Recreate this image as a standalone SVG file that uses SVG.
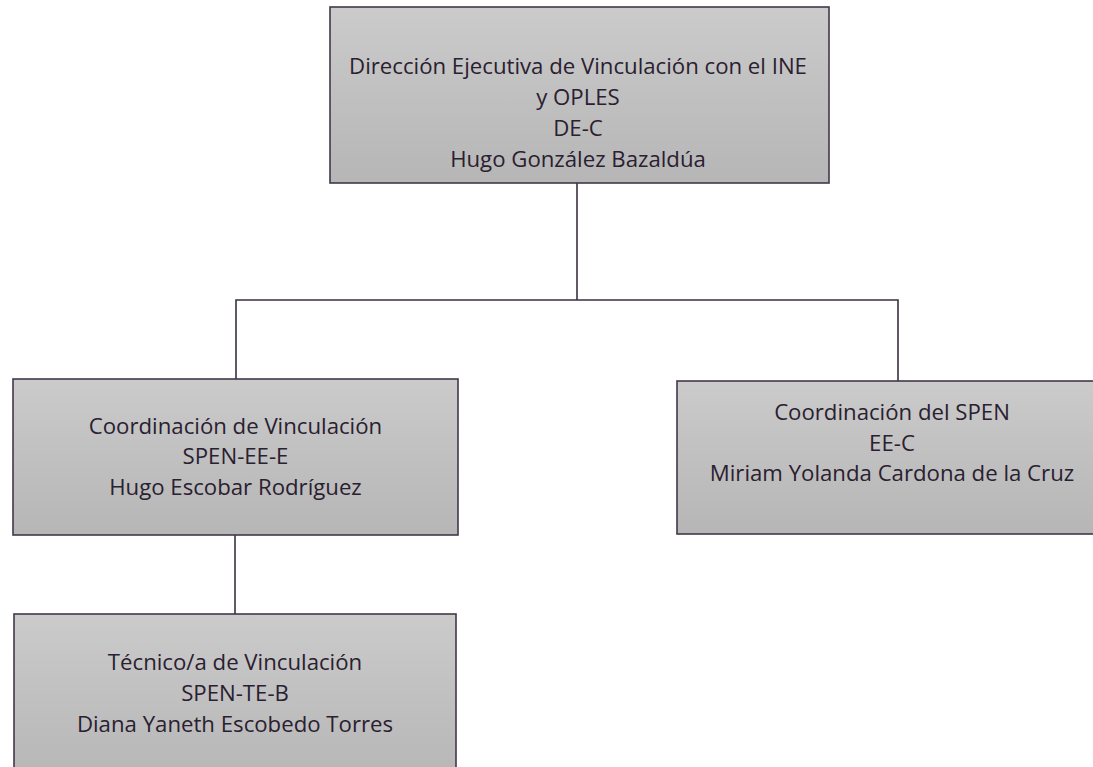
<svg xmlns="http://www.w3.org/2000/svg" width="1093" height="767" viewBox="0 0 1093 767">
<defs>
<linearGradient id="g" x1="0" y1="0" x2="0" y2="1">
<stop offset="0" stop-color="#cbcbcb"/>
<stop offset="0.5" stop-color="#c0c0c0"/>
<stop offset="1" stop-color="#b6b6b6"/>
</linearGradient>
<style>
.box{fill:url(#g);stroke:#43384a;stroke-width:1.6}
.t{font-family:"Open Sans","Liberation Sans",Arial,sans-serif;font-size:22.2px;fill:#2a2030;text-anchor:middle}
.c{fill:none;stroke:#3a3040;stroke-width:1.6}
</style>
</defs>
<rect width="1093" height="767" fill="#ffffff"/>
<g id="connectors">
<path class="c" d="M577 183 V300"/>
<path class="c" d="M236 379 V300 H898 V381"/>
<path class="c" d="M235 535 V614"/>
</g>
<g id="node-direccion">
<rect class="box" x="330" y="7" width="499" height="176"/>
<text class="t" x="578" y="74">Dirección Ejecutiva de Vinculación con el INE</text>
<text class="t" x="578" y="105">y OPLES</text>
<text class="t" x="578" y="136">DE-C</text>
<text class="t" x="578" y="167">Hugo González Bazaldúa</text>
</g>
<g id="node-coord-vinculacion">
<rect class="box" x="13" y="379" width="445" height="156"/>
<text class="t" x="235.5" y="434">Coordinación de Vinculación</text>
<text class="t" x="235.5" y="464">SPEN-EE-E</text>
<text class="t" x="235.5" y="495">Hugo Escobar Rodríguez</text>
</g>
<g id="node-coord-spen">
<rect class="box" x="677" y="381" width="430" height="153"/>
<text class="t" x="892" y="420">Coordinación del SPEN</text>
<text class="t" x="892" y="451">EE-C</text>
<text class="t" x="892" y="481">Miriam Yolanda Cardona de la Cruz</text>
</g>
<g id="node-tecnico">
<rect class="box" x="14" y="614" width="442" height="170"/>
<text class="t" x="235" y="670">Técnico/a de Vinculación</text>
<text class="t" x="235" y="701">SPEN-TE-B</text>
<text class="t" x="235" y="732">Diana Yaneth Escobedo Torres</text>
</g>
</svg>
